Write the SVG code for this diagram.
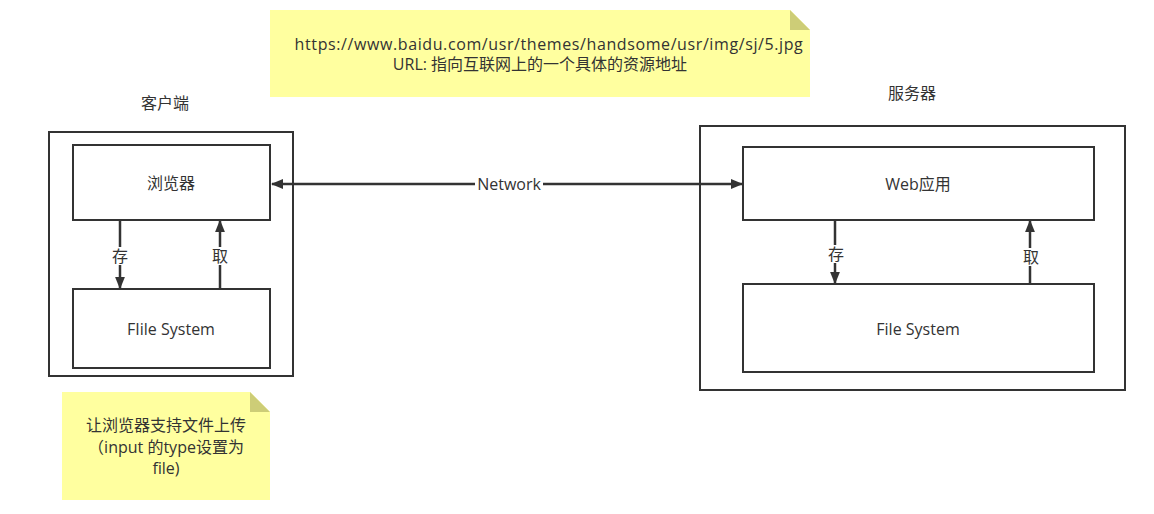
<svg xmlns="http://www.w3.org/2000/svg" width="1154" height="514" viewBox="0 0 1154 514">
<style>
.box{fill:#fff;stroke:#333;stroke-width:2}
.note{fill:#ffff9f;stroke:none}
.fold{fill:#cdcd77}
.t{font-family:"Open Sans","Noto Sans CJK SC",sans-serif;font-size:16px;fill:#333;text-anchor:middle;dominant-baseline:central}
.edge{stroke:#333;stroke-width:2.5;fill:none}
.lbl{fill:#fff}
</style>
<defs>
<marker id="arr" viewBox="0 0 10 10" refX="9" refY="5" markerWidth="5" markerHeight="5" orient="auto-start-reverse" markerUnits="strokeWidth">
<path d="M0,1 L10,5 L0,9 Z" fill="#333"/>
</marker>
</defs>
<rect width="1154" height="514" fill="#fff"/>
<g id="note-url">
<path class="note" d="M270,10 H790 L810,30 V97 H270 Z"/>
<path class="fold" d="M790,10 L810,30 H790 Z"/>
<text class="t" x="549" y="44" style="letter-spacing:0.6px">https://www.baidu.com/usr/themes/handsome/usr/img/sj/5.jpg</text>
<text class="t" x="540" y="64">URL: 指向互联网上的一个具体的资源地址</text>
</g>
<g id="label-client"><text class="t" x="165" y="103">客户端</text></g>
<g id="label-server"><text class="t" x="912" y="93">服务器</text></g>
<g id="client"><rect class="box" x="49" y="132" width="244" height="244"/></g>
<g id="browser"><rect class="box" x="73" y="145" width="197" height="75"/><text class="t" x="171" y="183">浏览器</text></g>
<g id="client-fs"><rect class="box" x="73" y="289" width="197" height="79"/><text class="t" x="171" y="329">FIile System</text></g>
<g id="server"><rect class="box" x="700" y="126" width="425" height="264"/></g>
<g id="webapp"><rect class="box" x="743" y="147" width="351" height="73"/><text class="t" x="918" y="184">Web应用</text></g>
<g id="server-fs"><rect class="box" x="743" y="284" width="351" height="88"/><text class="t" x="918" y="329">File System</text></g>
<g id="note-upload">
<path class="note" d="M62,392 H250 L270,412 V500 H62 Z"/>
<path class="fold" d="M250,392 L270,412 H250 Z"/>
<text class="t" x="166" y="425">让浏览器支持文件上传</text>
<text class="t" x="166" y="447">（input 的type设置为</text>
<text class="t" x="166" y="468">file)</text>
</g>
<g id="connectors">
<line class="edge" x1="272" y1="184" x2="742" y2="184" marker-start="url(#arr)" marker-end="url(#arr)"/>
<rect class="lbl" x="475" y="175" width="68" height="18"/>
<text class="t" x="509" y="184">Network</text>
<line class="edge" x1="120" y1="221" x2="120" y2="288" marker-end="url(#arr)"/>
<rect class="lbl" x="111" y="247" width="18" height="18"/>
<text class="t" x="120" y="256">存</text>
<line class="edge" x1="220" y1="289" x2="220" y2="221" marker-end="url(#arr)"/>
<rect class="lbl" x="211" y="247" width="18" height="18"/>
<text class="t" x="220" y="256">取</text>
<line class="edge" x1="835" y1="221" x2="835" y2="283" marker-end="url(#arr)"/>
<rect class="lbl" x="827" y="245" width="18" height="18"/>
<text class="t" x="836" y="254">存</text>
<line class="edge" x1="1030" y1="284" x2="1030" y2="221" marker-end="url(#arr)"/>
<rect class="lbl" x="1022" y="248" width="18" height="18"/>
<text class="t" x="1031" y="257">取</text>
</g>
</svg>
